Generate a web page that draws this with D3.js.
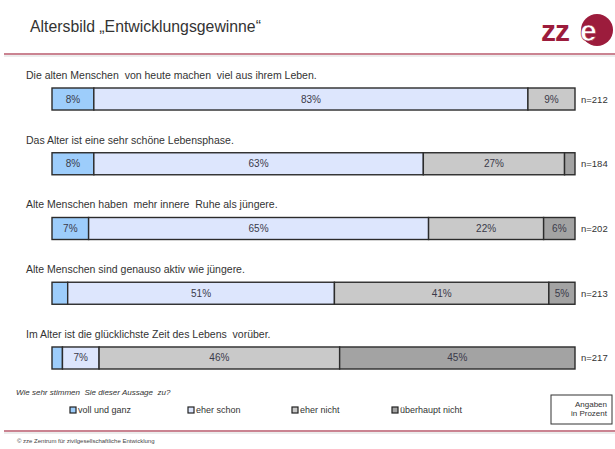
<!DOCTYPE html>
<html>
<head>
<meta charset="utf-8">
<script src="https://cdn.jsdelivr.net/npm/d3@7/dist/d3.min.js"></script>
<style>
  html, body { margin: 0; padding: 0; background: #fff; }
  svg { display: block; font-family: Arial, "Liberation Sans", sans-serif; }
</style>
</head>
<body>
<svg id="chart" width="615" height="449"></svg>
<script>
// Survey statements and answer shares (percent)
const statements = [
  "Die alten Menschen  von heute machen  viel aus ihrem Leben.",
  "Das Alter ist eine sehr schöne Lebensphase.",
  "Alte Menschen haben  mehr innere  Ruhe als jüngere.",
  "Alte Menschen sind genauso aktiv wie jüngere.",
  "Im Alter ist die glücklichste Zeit des Lebens  vorüber."
];
const answerCategories = ["voll und ganz", "eher schon", "eher nicht", "überhaupt nicht"];
const vollUndGanz     = [8, 8, 7, 3, 2];
const eherSchon       = [83, 63, 65, 51, 7];
const eherNicht       = [9, 27, 22, 41, 46];
const ueberhauptNicht = [0, 2, 6, 5, 45];
const sampleSizes     = [212, 184, 202, 213, 217];
const categoryColors  = ["#9dcdfb", "#dde6fd", "#c9c9c9", "#a3a3a3"];

const series = [vollUndGanz, eherSchon, eherNicht, ueberhauptNicht];
const rows = statements.map((s, i) => {
  const r = { statement: s, n: sampleSizes[i] };
  answerCategories.forEach((c, k) => r[c] = series[k][i]);
  return r;
});

const svg = d3.select("#chart");

// Header
svg.append("text")
  .attr("x", 30).attr("y", 32)
  .attr("font-size", 15.8).attr("fill", "#333")
  .text("Altersbild „Entwicklungsgewinne“");

// Logo
const logo = svg.append("g");
logo.append("text")
  .attr("x", 541).attr("y", 41)
  .attr("font-size", 30).attr("font-weight", "bold")
  .attr("fill", "#9c1c3c").attr("letter-spacing", -1)
  .text("zz");
logo.append("circle").attr("cx", 597).attr("cy", 30).attr("r", 16).attr("fill", "#9c1c3c");
logo.append("text")
  .attr("x", 580).attr("y", 41)
  .attr("font-size", 30).attr("font-weight", "bold")
  .attr("fill", "#fff").attr("stroke", "#9c1c3c").attr("stroke-width", 0.6)
  .text("e");

// Header and footer rules
[54, 431].forEach(y => {
  svg.append("line").attr("x1", 4).attr("x2", 615).attr("y1", y).attr("y2", y)
    .attr("stroke", "#b85a6c").attr("stroke-width", 1.6);
  svg.append("line").attr("x1", 4).attr("x2", 615).attr("y1", y + 2).attr("y2", y + 2)
    .attr("stroke", "#e6e6e6").attr("stroke-width", 1.5);
});

// Scales
const x = d3.scaleLinear().domain([0, 100]).range([52, 575]);
const y = d3.scaleBand().domain(statements).range([88, 369]).paddingInner(0.66).paddingOuter(0);
const color = d3.scaleOrdinal().domain(answerCategories).range(categoryColors);

const stacked = d3.stack().keys(answerCategories)(rows);

// Statement labels
svg.append("g").selectAll("text")
  .data(rows).join("text")
  .attr("x", 26)
  .attr("y", d => y(d.statement) - 9)
  .attr("font-size", 10.5).attr("fill", "#333")
  .attr("xml:space", "preserve")
  .style("white-space", "pre")
  .text(d => d.statement);

// Stacked bar segments
const layers = svg.append("g").selectAll("g")
  .data(stacked).join("g")
  .attr("fill", d => color(d.key));

layers.selectAll("rect")
  .data(d => d.filter(p => p[1] - p[0] > 0))
  .join("rect")
  .attr("x", p => x(p[0]))
  .attr("y", p => y(p.data.statement))
  .attr("width", p => x(p[1]) - x(p[0]))
  .attr("height", y.bandwidth())
  .attr("stroke", "#2b2b2b").attr("stroke-width", 1.4);

// Segment value labels
layers.selectAll("text")
  .data(d => d.filter(p => p[1] - p[0] >= 5))
  .join("text")
  .attr("x", p => (x(p[0]) + x(p[1])) / 2)
  .attr("y", p => y(p.data.statement) + y.bandwidth() / 2 + 3.5)
  .attr("text-anchor", "middle")
  .attr("font-size", 10).attr("fill", "#3a3a4a")
  .text(p => (p[1] - p[0]) + "%");

// Sample sizes
svg.append("g").selectAll("text")
  .data(rows).join("text")
  .attr("x", 581)
  .attr("y", d => y(d.statement) + y.bandwidth() / 2 + 3.5)
  .attr("font-size", 9.5).attr("fill", "#333")
  .text(d => "n=" + d.n);

// Legend
svg.append("text")
  .attr("x", 16).attr("y", 395)
  .attr("font-size", 8).attr("font-style", "italic").attr("fill", "#333")
  .attr("xml:space", "preserve").style("white-space", "pre")
  .text("Wie sehr stimmen  Sie dieser Aussage  zu?");

const legendX = [70, 188, 292, 392];
const legend = svg.append("g").selectAll("g")
  .data(answerCategories).join("g")
  .attr("transform", (d, i) => `translate(${legendX[i]},413)`);
legend.append("rect")
  .attr("x", 0).attr("y", -6).attr("width", 6).attr("height", 6)
  .attr("fill", d => color(d)).attr("stroke", "#222").attr("stroke-width", 1.2);
legend.append("text")
  .attr("x", 8).attr("y", 0)
  .attr("font-size", 9).attr("fill", "#333")
  .text(d => d);

// Unit note
svg.append("rect")
  .attr("x", 551).attr("y", 395).attr("width", 61).attr("height", 29)
  .attr("fill", "#fff").attr("stroke", "#333").attr("stroke-width", 1);
svg.append("text").attr("x", 607).attr("y", 407)
  .attr("text-anchor", "end").attr("font-size", 8).attr("fill", "#333").text("Angaben");
svg.append("text").attr("x", 607).attr("y", 416)
  .attr("text-anchor", "end").attr("font-size", 8).attr("fill", "#333").text("in Prozent");

// Footer
svg.append("text")
  .attr("x", 17).attr("y", 443)
  .attr("font-size", 6).attr("fill", "#444")
  .text("© zze Zentrum für zivilgesellschaftliche Entwicklung");
</script>
</body>
</html>
